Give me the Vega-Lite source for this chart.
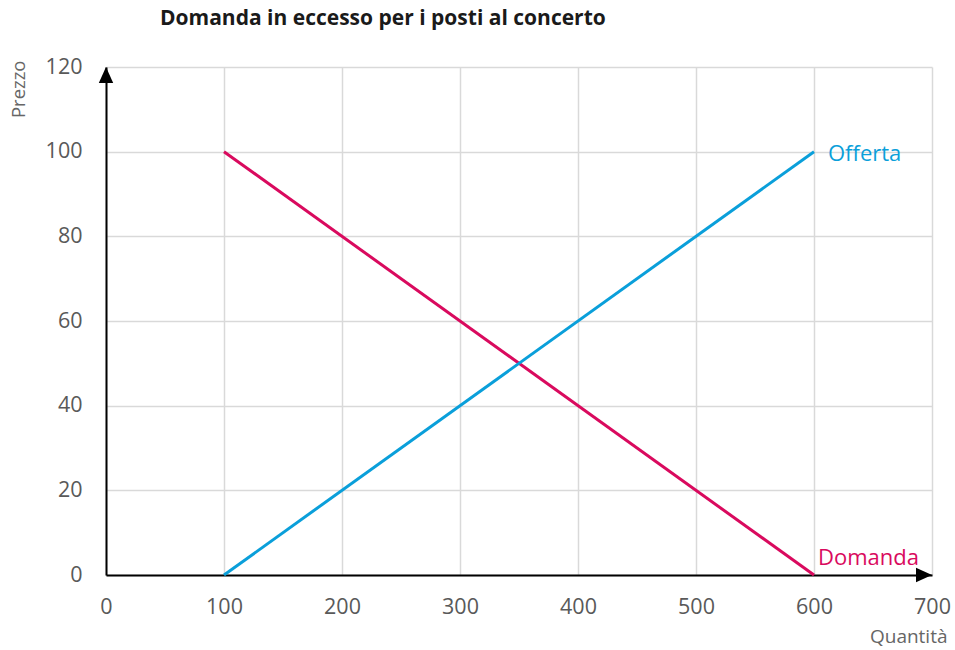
{
  "$schema": "https://vega.github.io/schema/vega-lite/v6.json",
  "width": 826,
  "height": 508,
  "autosize": {"type": "none"},
  "padding": {"left": 106, "top": 67, "right": 23, "bottom": 75},
  "background": "white",
  "title": {
    "text": "Domanda in eccesso per i posti al concerto",
    "anchor": "start",
    "frame": "group",
    "dx": 54,
    "dy": -23,
    "font": "Open Sans",
    "fontSize": 21,
    "fontWeight": "bold",
    "color": "#1a1a1a"
  },
  "config": {
    "view": {"stroke": null},
    "font": "Open Sans"
  },
  "datasets": {
    "curve": [
      {"serie": "Domanda", "q": 100, "p": 100},
      {"serie": "Domanda", "q": 600, "p": 0},
      {"serie": "Offerta", "q": 100, "p": 0},
      {"serie": "Offerta", "q": 600, "p": 100}
    ],
    "etichette": [
      {"serie": "Domanda", "q": 600, "p": 0, "label": "Domanda"},
      {"serie": "Offerta", "q": 600, "p": 100, "label": "Offerta"}
    ]
  },
  "layer": [
    {
      "data": {"name": "curve"},
      "mark": {"type": "line", "strokeWidth": 3},
      "encoding": {
        "x": {
          "field": "q", "type": "quantitative",
          "scale": {"domain": [0, 700], "nice": false, "zero": true},
          "axis": {
            "values": [0, 100, 200, 300, 400, 500, 600, 700],
            "title": "Quantità",
            "titleX": 841, "titleY": 61, "titleAlign": "right", "titleBaseline": "middle",
            "titleAnchor": null,
            "titleFont": "Open Sans", "titleFontSize": 19, "titleFontWeight": "normal", "titleColor": "#666666",
            "labelFont": "Open Sans", "labelFontSize": 21.5, "labelColor": "#595959", "labelPadding": 21,
            "ticks": false,
            "domainColor": "black", "domainWidth": 2,
            "gridColor": "#d9d9d9", "gridWidth": 1.5,
            "labelFlush": false
          }
        },
        "y": {
          "field": "p", "type": "quantitative",
          "scale": {"domain": [0, 120], "nice": false},
          "axis": {
            "values": [0, 20, 40, 60, 80, 100, 120],
            "title": "Prezzo",
            "titleX": -88, "titleY": -7, "titleAngle": -90, "titleAlign": "right", "titleBaseline": "middle",
            "titleAnchor": null,
            "titleFont": "Open Sans", "titleFontSize": 18.5, "titleFontWeight": "normal", "titleColor": "#666666",
            "labelFont": "Open Sans", "labelFontSize": 21.5, "labelColor": "#595959", "labelPadding": 24,
            "ticks": false,
            "domainColor": "black", "domainWidth": 2,
            "gridColor": "#d9d9d9", "gridWidth": 1.5,
            "labelFlush": false
          }
        },
        "color": {
          "field": "serie", "type": "nominal",
          "scale": {"domain": ["Domanda", "Offerta"], "range": ["#d90a5e", "#0a9fda"]},
          "legend": null
        },
        "detail": {"field": "serie"}
      }
    },
    {
      "data": {"name": "etichette"},
      "transform": [{"filter": "datum.serie == 'Offerta'"}],
      "mark": {"type": "text", "align": "left", "baseline": "middle", "dx": 14, "dy": 2, "fontSize": 22, "font": "Open Sans"},
      "encoding": {
        "x": {"field": "q", "type": "quantitative"},
        "y": {"field": "p", "type": "quantitative"},
        "text": {"field": "label"},
        "color": {"field": "serie", "type": "nominal", "legend": null}
      }
    },
    {
      "data": {"name": "etichette"},
      "transform": [{"filter": "datum.serie == 'Domanda'"}],
      "mark": {"type": "text", "align": "left", "baseline": "middle", "dx": 4, "dy": -17, "fontSize": 22, "font": "Open Sans"},
      "encoding": {
        "x": {"field": "q", "type": "quantitative"},
        "y": {"field": "p", "type": "quantitative"},
        "text": {"field": "label"},
        "color": {"field": "serie", "type": "nominal", "legend": null}
      }
    },
    {
      "data": {"values": [{"q": 0, "p": 120}]},
      "mark": {"type": "point", "shape": "M0,0L0.45,1L-0.45,1Z", "filled": true, "color": "black", "size": 1024, "opacity": 1},
      "encoding": {
        "x": {"field": "q", "type": "quantitative"},
        "y": {"field": "p", "type": "quantitative"}
      }
    },
    {
      "data": {"values": [{"q": 700, "p": 0}]},
      "mark": {"type": "point", "shape": "M0,0L-1,-0.45L-1,0.45Z", "filled": true, "color": "black", "size": 1024, "opacity": 1},
      "encoding": {
        "x": {"field": "q", "type": "quantitative"},
        "y": {"field": "p", "type": "quantitative"}
      }
    }
  ]
}
